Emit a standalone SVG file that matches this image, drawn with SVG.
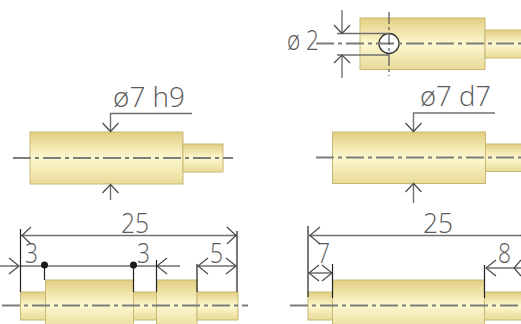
<svg xmlns="http://www.w3.org/2000/svg" width="521" height="324" viewBox="0 0 521 324">
<style>
text{font-family:"Open Sans","Noto Sans",sans-serif;font-weight:300;font-size:28px;fill:#5a5a5a}
.body{fill:url(#brass);stroke:#c9b872;stroke-width:1}
.c{fill:none;stroke:#7d7d78;stroke-width:1.8;stroke-dasharray:18 4 4 4}
.d{fill:none;stroke:#707070;stroke-width:1.4}
.e{fill:none;stroke:#222;stroke-width:1.2}
.a{fill:none;stroke:#4a4a4a;stroke-width:1.200}
</style>
<defs>
<linearGradient id="brass" x1="0" y1="0" x2="0" y2="1">
<stop offset="0" stop-color="#e2ce82"/><stop offset=".5" stop-color="#fdf8d0"/><stop offset="1" stop-color="#e8da98"/>
</linearGradient>
</defs>
<g id="shaft-h9">
<rect class="body" x="30" y="132" width="153" height="52"/>
<rect class="body" x="183" y="144" width="40" height="28"/>
<text x="113" y="107" textLength="72" lengthAdjust="spacingAndGlyphs">ø7 h9</text>
</g>
<g id="shaft-d7">
<rect class="body" x="332.500" y="132" width="153" height="51.500"/>
<rect class="body" x="485.500" y="144" width="40" height="27.500"/>
<text x="420" y="106" textLength="71" lengthAdjust="spacingAndGlyphs">ø7 d7</text>
</g>
<g id="shaft-hole">
<rect class="body" x="360" y="18" width="125" height="51.500"/>
<rect class="body" x="485" y="30" width="40" height="28"/>
<text x="287" y="50" textLength="32" lengthAdjust="spacingAndGlyphs">ø 2</text>
</g>
<g id="shaft-stepped">
<rect class="body" x="20.500" y="292" width="25" height="28"/>
<rect class="body" x="45.500" y="280" width="88" height="50"/>
<rect class="body" x="133.500" y="292" width="23" height="28"/>
<rect class="body" x="156.500" y="280" width="40.500" height="50"/>
<rect class="body" x="197" y="292" width="41" height="28"/>
<text x="121" y="233" textLength="28" lengthAdjust="spacingAndGlyphs">25</text>
<text x="25" y="263" textLength="13" lengthAdjust="spacingAndGlyphs">3</text>
<text x="137" y="263" textLength="13" lengthAdjust="spacingAndGlyphs">3</text>
<text x="210" y="263" textLength="13" lengthAdjust="spacingAndGlyphs">5</text>
</g>
<g id="shaft-plain">
<rect class="body" x="308" y="292" width="24.500" height="28"/>
<rect class="body" x="332.500" y="280" width="152" height="50"/>
<rect class="body" x="484.500" y="292" width="40" height="28"/>
<text x="423" y="233" textLength="30" lengthAdjust="spacingAndGlyphs">25</text>
<text x="317" y="263" textLength="13" lengthAdjust="spacingAndGlyphs">7</text>
<text x="498" y="263" textLength="13" lengthAdjust="spacingAndGlyphs">8</text>
</g>
<g id="connectors">
<path class="c" d="M13 158H233M316 157.500H521M2 305.500H248M290 305.500H521"/>
<circle cx="389" cy="43.500" r="10" fill="#fff" stroke="#333" stroke-width="1.300"/>
<path class="c" d="M316 43.500H521"/>
<path d="M389 12V76" fill="none" stroke="#555" stroke-width="1.200" stroke-dasharray="12 3 3 3"/>
<path class="d" d="M192 113.500H110.500V131M110.500 185V200M495 113H413.500V131M413.500 184V203M337 33.500H389M337 55H389M342 10V33M342 55V78"/>
<path class="a" d="M102.500 123L110.500 131.500L118.500 123M102.500 193L110.500 184.500L118.500 193M405.500 123L413.500 131.500L421.500 123M405.500 192L413.500 183.500L421.500 192M334 25L342 33.500L350 25M334 63L342 55L350 63"/>
<path class="d" d="M21 235.500H237M309 235.500H521M0 266H19M21 266H157M157 266H180M198 266H236M309 273H332M486 268H521"/>
<path class="a" d="M31 227L22 235.500L31 244M227 227L236 235.500L227 244M320 227L310 235.500L320 244M530 227L521 235.500L530 244M9 258L19 266L9 274M167 258L157 266L167 274M208 258L198 266L208 274M226 258L236 266L226 274M319 265L309 273L319 281M322 265L332 273L322 281M496 260L486 268L496 276M521 260L514 268L521 276"/>
<path class="e" d="M20.500 229V292M237 231V292M44.500 265V280M133.500 265V292M156.500 260V292M197 264V292M308 226V297M332.500 264V298M484.500 265V298"/>
<circle cx="44.500" cy="265" r="3.500" fill="#1a1a1a"/>
<circle cx="133.500" cy="265" r="3.500" fill="#1a1a1a"/>
</g>
</svg>
